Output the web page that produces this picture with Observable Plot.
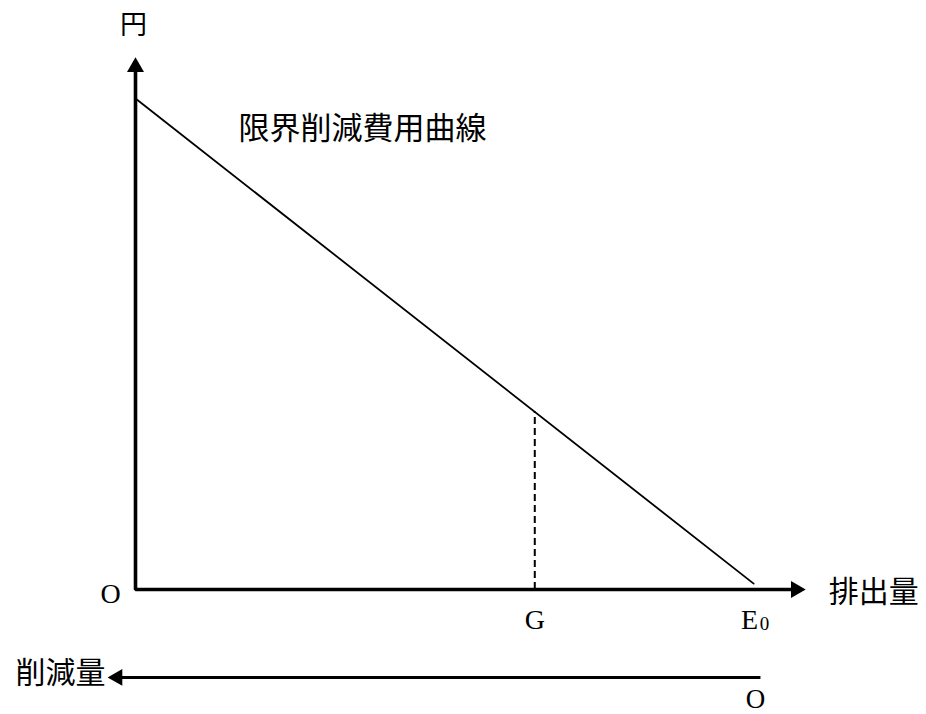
<!DOCTYPE html>
<html>
<head>
<meta charset="utf-8">
<script src="https://cdn.jsdelivr.net/npm/d3@7"></script>
<script src="https://cdn.jsdelivr.net/npm/@observablehq/plot@0.6"></script>
<style>
  html, body { margin: 0; padding: 0; background: #fff; }
  #chart svg { display: block; }
</style>
</head>
<body>
<div id="chart"></div>
<script>
// ---- data ----
const curveEmission = [0, 99.7];      // 排出量 (E0 = 100)
const curveCost = [100, 1.2];         // 限界削減費用 (円)
const gEmission = 64.4;               // G
const e0Emission = 100;               // E0
const curveLabel = "限界削減費用曲線";
const yAxisLabel = "円";
const xAxisLabel = "排出量";
const reductionLabel = "削減量";
const originLabel = "O";
const gLabel = "G";
const e0Label = ["E", "0"];

// ---- layout (axes extents in data units) ----
const yTop = 108.4, yLineTop = 106.4;
const xEnd = 108.1, xLineEnd = 106.5;
const redY = -17.9, redTip = -4.5, redLineTip = -2.9, redStart = 100.8;

const curve = curveEmission.map((e, i) => ({e, c: curveCost[i]}));
const gCost = curveCost[0] + (curveCost[1] - curveCost[0]) * (gEmission - curveEmission[0]) / (curveEmission[1] - curveEmission[0]);

const cjk = "'Noto Sans CJK JP', 'Noto Sans CJK SC', sans-serif";
const serif = "'Liberation Serif', 'DejaVu Serif', serif";

const chart = Plot.plot({
  width: 926,
  height: 714,
  marginLeft: 135,
  marginRight: 171,
  marginTop: 98,
  marginBottom: 125,
  x: {domain: [0, 100], axis: null},
  y: {domain: [0, 100], axis: null},
  style: {background: "#fff", color: "#000"},
  marks: [
    // axes
    Plot.line([{e: 0, c: yLineTop}, {e: 0, c: 0}, {e: xLineEnd, c: 0}], {
      x: "e", y: "c", stroke: "#000", strokeWidth: 3.6, strokeLinejoin: "miter", strokeLinecap: "butt"
    }),
    Plot.dot([{e: 0, c: yTop}], {x: "e", y: "c", symbol: "triangle", r: 6.3, fill: "#000", stroke: "none", rotate: 0, dy: 9.8}),
    Plot.dot([{e: xEnd, c: 0}], {x: "e", y: "c", symbol: "triangle", r: 6.3, fill: "#000", stroke: "none", rotate: 90, dx: -9.8}),
    // reduction axis
    Plot.line([{e: redStart, c: redY}, {e: redLineTip, c: redY}], {
      x: "e", y: "c", stroke: "#000", strokeWidth: 3, strokeLinecap: "butt"
    }),
    Plot.dot([{e: redTip, c: redY}], {x: "e", y: "c", symbol: "triangle", r: 6.3, fill: "#000", stroke: "none", rotate: -90, dx: 9.8}),
    // curve
    Plot.line(curve, {x: "e", y: "c", stroke: "#000", strokeWidth: 1.8}),
    // dashed G line
    Plot.ruleX([gEmission], {y1: 0, y2: gCost, stroke: "#000", strokeWidth: 2, strokeDasharray: "7,4"}),
    // texts
    Plot.text([yAxisLabel], {x: () => 0, y: () => yTop, dy: -32, dx: -2, fontFamily: cjk, fontSize: 27, fill: "#000"}),
    Plot.text([curveLabel], {x: () => 0, y: () => 100, dx: 103, dy: 31, textAnchor: "start", fontFamily: cjk, fontSize: 31, fill: "#000", letterSpacing: "1.3px"}),
    Plot.text([originLabel], {x: () => 0, y: () => 0, dx: -25, dy: 5, fontFamily: serif, fontSize: 28, fill: "#000"}),
    Plot.text([xAxisLabel], {x: () => xEnd, y: () => 0, dx: 23, dy: 3, textAnchor: "start", fontFamily: cjk, fontSize: 30, fill: "#000"}),
    Plot.text([gLabel], {x: () => gEmission, y: () => 0, dy: 31, fontFamily: serif, fontSize: 28, fill: "#000"}),
    Plot.text([e0Label[0]], {x: () => e0Emission, y: () => 0, dx: -6, dy: 31, fontFamily: serif, fontSize: 28, fill: "#000"}),
    Plot.text([e0Label[1]], {x: () => e0Emission, y: () => 0, dx: 9, dy: 34, fontFamily: serif, fontSize: 19, fill: "#000"}),
    Plot.text([reductionLabel], {x: () => redTip, y: () => redY, dx: -2, dy: -4, textAnchor: "end", fontFamily: cjk, fontSize: 30, fill: "#000"}),
    Plot.text([originLabel], {x: () => e0Emission, y: () => redY, dy: 22, fontFamily: serif, fontSize: 27, fill: "#000"})
  ]
});
document.getElementById("chart").appendChild(chart);
</script>
</body>
</html>
